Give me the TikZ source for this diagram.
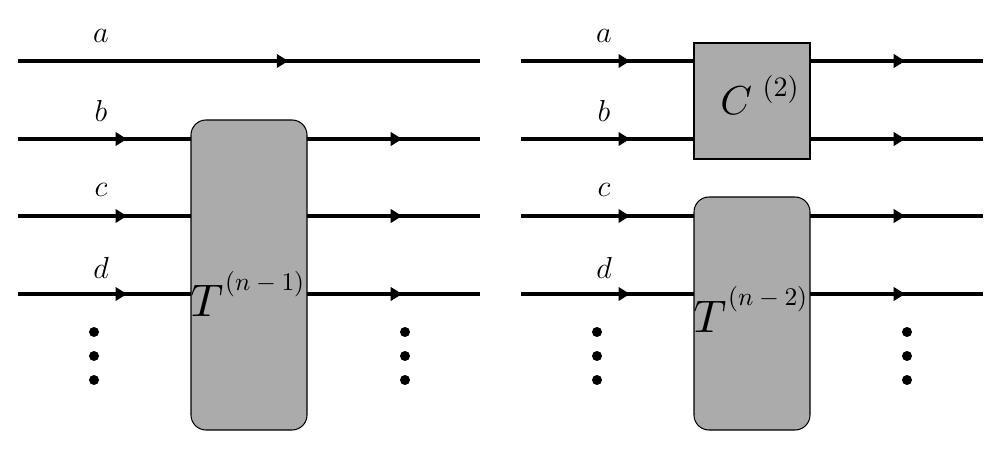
\documentclass[tikz,border=0pt]{standalone}
\usetikzlibrary{arrows.meta,decorations.markings}
\tikzset{
  wire/.style={line width=2.3pt},
  arrin/.style={wire,postaction={decorate},decoration={markings,mark=at position #1 with {\arrow{Triangle[length=6.5pt,width=7.5pt]}}}},
  blockr/.style={draw=black,line width=0.6pt,fill=black!33,rounded corners=0.3cm},
  blocks/.style={draw=black,line width=0.6pt,fill=black!33},
  lab/.style={font=\fontsize{16}{19}\selectfont},
  big/.style={inner sep=0pt,anchor=base west},
  vdot/.style={circle,fill=black,inner sep=0pt,minimum size=0.2cm}
}
\newcommand{\Tlab}[1]{\scalebox{2.6}{$T$}\hspace{1pt}\raisebox{15pt}{\scalebox{1.45}{$(n-#1)$}}}
\begin{document}
\begin{tikzpicture}
\useasboundingbox (0,0) rectangle (20,9);
% ---------- left panel ----------
\foreach \n/\y in {a/7.78,b/6.22,c/4.68,d/3.12}{
  \coordinate (L\n0) at (0.36,\y);
  \coordinate (L\n1) at (9.6,\y);
}
\draw[arrin=0.585] (La0) -- (La1);
\foreach \n in {b,c,d}{
  \draw[arrin=0.63] (L\n0) -- (L\n1 -| 3.82,0);
  \draw[arrin=0.55] (L\n0 -| 6.14,0) -- (L\n1);
}
\draw[blockr] (3.82,0.4) rectangle (6.14,6.6);
\node[big] (TL) at (3.8,2.66) {\Tlab{1}};
\node[lab] (la) at (2.02,8.28) {$a$};
\node[lab] (lb) at (2.02,6.78) {$b$};
\node[lab] (lc) at (2.02,5.2) {$c$};
\node[lab] (ld) at (2.02,3.64) {$d$};
\foreach \x/\k in {1.88/p,8.1/q}{
  \node[vdot] (\k1) at (\x,2.36) {};
  \node[vdot] (\k2) at (\x,1.88) {};
  \node[vdot] (\k3) at (\x,1.40) {};
}
% ---------- right panel ----------
\foreach \n/\y in {a/7.78,b/6.22,c/4.68,d/3.12}{
  \coordinate (R\n0) at (10.42,\y);
  \coordinate (R\n1) at (19.66,\y);
  \draw[arrin=0.63] (R\n0) -- (13.88,\y);
  \draw[arrin=0.55] (16.2,\y) -- (R\n1);
}
\draw[blocks] (13.88,5.82) rectangle (16.2,8.14);
\node[big] (C) at (14.4,6.7) {\scalebox{2.3}{$C$}\hspace{6pt}\raisebox{10.5pt}{\scalebox{1.6}{$(2)$}}};
\draw[blockr] (13.88,0.4) rectangle (16.2,5.06);
\node[big] (TR) at (13.86,2.36) {\Tlab{2}};
\node[lab] (ra) at (12.08,8.28) {$a$};
\node[lab] (rb) at (12.08,6.78) {$b$};
\node[lab] (rc) at (12.08,5.2) {$c$};
\node[lab] (rd) at (12.08,3.64) {$d$};
\foreach \x/\k in {11.94/r,18.14/s}{
  \node[vdot] (\k1) at (\x,2.36) {};
  \node[vdot] (\k2) at (\x,1.88) {};
  \node[vdot] (\k3) at (\x,1.40) {};
}
\end{tikzpicture}
\end{document}
